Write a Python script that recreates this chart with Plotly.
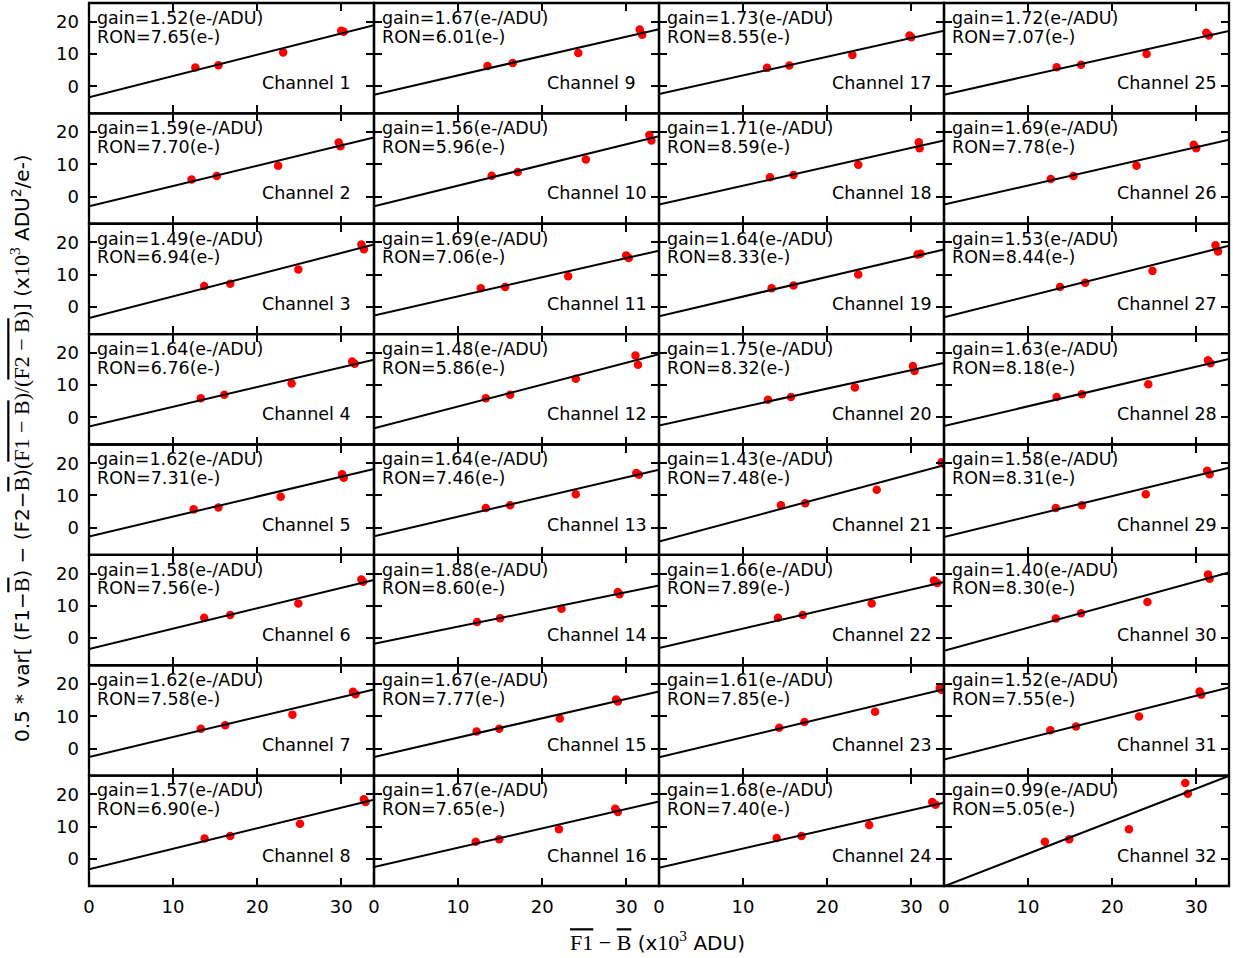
import plotly.graph_objects as go
from plotly.subplots import make_subplots

# Photon-transfer fits for the 32 readout channels
channels = list(range(1, 33))
gains = [1.52, 1.59, 1.49, 1.64, 1.62, 1.58, 1.62, 1.57,
         1.67, 1.56, 1.69, 1.48, 1.64, 1.88, 1.67, 1.67,
         1.73, 1.71, 1.64, 1.75, 1.43, 1.66, 1.61, 1.68,
         1.72, 1.69, 1.53, 1.63, 1.58, 1.40, 1.52, 0.99]
rons = [7.65, 7.70, 6.94, 6.76, 7.31, 7.56, 7.58, 6.90,
        6.01, 5.96, 7.06, 5.86, 7.46, 8.60, 7.77, 7.65,
        8.55, 8.59, 8.33, 8.32, 7.48, 7.89, 7.85, 7.40,
        7.07, 7.78, 8.44, 8.18, 8.31, 8.30, 7.55, 5.05]
# intercept of the linear fit (slope is 1/gain)
fit_intercepts = [-3.4, -3.0, -3.4, -2.8, -2.7, -3.4, -2.6, -3.25,
                  -2.6, -3.0, -2.6, -3.35, -2.65, -1.75, -2.6, -2.5,
                  -2.4, -2.45, -2.85, -2.5, -4.3, -3.05, -2.7, -2.75,
                  -2.6, -2.45, -3.2, -2.7, -2.85, -3.9, -3.4, -8.5]

# mean signal F1 - B (x10^3 ADU), one list per channel
signal = [
    [12.65, 15.4, 23.1, 30.0, 30.3],
    [12.2, 15.2, 22.5, 29.7, 29.9],
    [13.7, 16.8, 24.9, 32.4, 32.7],
    [13.3, 16.1, 24.1, 31.3, 31.6],
    [12.45, 15.4, 22.8, 30.1, 30.3],
    [13.7, 16.8, 24.9, 32.4, 32.6],
    [13.3, 16.2, 24.2, 31.4, 31.7],
    [13.75, 16.8, 25.1, 32.7, 32.9],
    [13.5, 16.5, 24.3, 31.6, 31.9],
    [14.0, 17.1, 25.2, 32.75, 33.0],
    [12.7, 15.6, 23.1, 30.0, 30.3],
    [13.3, 16.2, 24.0, 31.1, 31.4],
    [13.3, 16.2, 24.0, 31.2, 31.5],
    [12.25, 15.0, 22.3, 29.0, 29.2],
    [12.2, 14.9, 22.1, 28.8, 29.0],
    [12.1, 14.9, 22.0, 28.7, 29.0],
    [12.85, 15.5, 23.0, 29.8, 30.0],
    [13.2, 16.0, 23.7, 30.9, 31.0],
    [13.4, 16.0, 23.7, 30.75, 31.1],
    [12.96, 15.7, 23.3, 30.2, 30.4],
    [14.5, 17.4, 25.9, 33.6, 34.0],
    [14.15, 17.1, 25.3, 32.7, 33.1],
    [14.3, 17.3, 25.7, 33.4, 33.6],
    [14.0, 16.95, 25.0, 32.5, 32.9],
    [13.4, 16.3, 24.1, 31.2, 31.5],
    [12.7, 15.4, 22.9, 29.7, 30.0],
    [13.8, 16.8, 24.8, 32.3, 32.6],
    [13.4, 16.4, 24.3, 31.4, 31.7],
    [13.3, 16.4, 24.0, 31.3, 31.6],
    [13.3, 16.3, 24.2, 31.4, 31.6],
    [12.65, 15.7, 23.2, 30.4, 30.6],
    [12.0, 14.9, 22.0, 28.7, 29.0],
]
# half variance of the flat difference (x10^3 ADU^2/e-)
half_var = [
    [5.8, 6.5, 10.5, 17.2, 16.9],
    [5.3, 6.4, 9.6, 16.75, 15.6],
    [6.5, 7.2, 11.6, 19.4, 17.9],
    [5.95, 7.05, 10.5, 17.3, 16.6],
    [5.7, 6.3, 9.6, 16.6, 15.5],
    [6.35, 7.2, 10.7, 18.2, 17.5],
    [6.1, 7.2, 10.5, 17.6, 16.8],
    [6.35, 7.1, 10.9, 18.5, 17.6],
    [6.3, 7.2, 10.3, 17.6, 16.0],
    [6.5, 7.6, 11.5, 19.1, 17.4],
    [5.8, 6.2, 9.5, 16.0, 15.2],
    [5.95, 7.05, 12.0, 19.2, 16.3],
    [6.1, 7.0, 10.4, 17.0, 16.4],
    [5.0, 6.2, 9.1, 14.3, 13.6],
    [5.3, 6.1, 9.3, 15.2, 14.6],
    [5.3, 6.1, 9.2, 15.5, 14.5],
    [5.7, 6.4, 9.7, 15.7, 15.2],
    [6.0, 6.7, 9.9, 16.85, 15.0],
    [5.8, 6.7, 10.1, 16.3, 16.5],
    [5.5, 6.3, 9.3, 15.9, 14.4],
    [7.0, 7.6, 11.8, 20.3, 19.6],
    [6.35, 7.2, 10.7, 17.9, 17.1],
    [6.4, 8.2, 11.4, 18.7, 18.2],
    [6.45, 7.1, 10.5, 17.6, 16.8],
    [5.9, 6.7, 10.0, 16.6, 15.7],
    [5.5, 6.4, 9.6, 16.1, 15.0],
    [6.2, 7.5, 11.2, 19.1, 17.2],
    [6.3, 7.2, 10.3, 17.7, 16.8],
    [6.1, 7.0, 10.4, 17.7, 16.6],
    [6.1, 7.7, 11.2, 19.7, 18.4],
    [5.65, 6.85, 9.9, 17.7, 16.7],
    [5.3, 6.1, 9.2, 23.5, 20.2],
]

x_ticks = [0, 10, 20, 30]
y_ticks = [0, 10, 20]
x_range = [0, 33.9]
y_range = [-8.4, 25.8]

N_ROWS, N_COLS = 8, 4
FONT = "DejaVu Sans"
SERIF = "Liberation Serif"

fig = make_subplots(rows=N_ROWS, cols=N_COLS,
                    horizontal_spacing=0, vertical_spacing=0)

annotations = []
shapes = []
for c in range(N_COLS):
    for r in range(N_ROWS):
        ch = c * N_ROWS + r
        idx = r * N_COLS + c + 1
        sfx = "" if idx == 1 else str(idx)
        xs, ys = signal[ch], half_var[ch]
        fig.add_trace(go.Scatter(
            x=xs, y=ys, mode="markers",
            marker=dict(color="#ff0000", size=8.5, line=dict(width=0)),
            showlegend=False, hoverinfo="skip"), row=r + 1, col=c + 1)
        slope = 1.0 / gains[ch]
        fx = [x_range[0], x_range[1]]
        fy = [fit_intercepts[ch] + slope * v for v in fx]
        fig.add_trace(go.Scatter(
            x=fx, y=fy, mode="lines",
            line=dict(color="black", width=2),
            showlegend=False, hoverinfo="skip"), row=r + 1, col=c + 1)

        txt_font = dict(family=FONT, size=17.5, color="black")
        annotations.append(dict(
            x=0.7, y=21.2, xref="x" + sfx, yref="y" + sfx,
            text=f"gain={gains[ch]:.2f}(e-/ADU)", showarrow=False,
            xanchor="left", yanchor="middle", font=txt_font))
        annotations.append(dict(
            x=0.7, y=15.4, xref="x" + sfx, yref="y" + sfx,
            text=f"RON={rons[ch]:.2f}(e-)", showarrow=False,
            xanchor="left", yanchor="middle", font=txt_font))
        annotations.append(dict(
            x=20.3, y=1.0, xref="x" + sfx, yref="y" + sfx,
            text=f"Channel {channels[ch]}", showarrow=False,
            xanchor="left", yanchor="middle", font=txt_font))
        shapes.append(dict(
            type="rect", xref=f"x{sfx} domain", yref=f"y{sfx} domain",
            x0=0, x1=1, y0=0, y1=1, layer="above",
            line=dict(color="black", width=2.3),
            fillcolor="rgba(0,0,0,0)"))

        fig.update_xaxes(
            range=x_range, tickvals=x_ticks, ticktext=[str(t) for t in x_ticks],
            ticks="inside", ticklen=8, tickwidth=1.5, tickcolor="black",
            mirror="allticks", showline=False, showgrid=False, zeroline=False,
            showticklabels=(r == N_ROWS - 1), ticklabelstandoff=8,
            tickfont=dict(family=FONT, size=18, color="black"),
            row=r + 1, col=c + 1)
        fig.update_yaxes(
            range=y_range, tickvals=y_ticks, ticktext=[str(t) for t in y_ticks],
            ticks="inside", ticklen=8, tickwidth=1.5, tickcolor="black",
            mirror="allticks", showline=False, showgrid=False, zeroline=False,
            showticklabels=(c == 0), ticklabelstandoff=9,
            tickfont=dict(family=FONT, size=18, color="black"),
            row=r + 1, col=c + 1)


def serif(s, size=22):
    return f"<span style='font-family:{SERIF};font-size:{size}px'>{s}</span>"


def bar(s):
    return f"<span style='text-decoration:overline'>{s}</span>"


y_title = ("0.5 * var[ (F1\u2212" + serif(bar("B")) + ") \u2212 (F2\u2212" + serif(bar("B")) + ")"
           + serif("(" + bar("F1 \u2212 B") + ")/(" + bar("F2 \u2212 B") + ")")
           + "] (x" + serif("10<sup>3</sup>") + " ADU<sup>2</sup>/e-)")
x_title = serif(bar("F1") + " \u2212 " + bar("B")) + " (x" + serif("10<sup>3</sup>") + " ADU)"

annotations.append(dict(
    x=-0.0605, y=0.496, xref="paper", yref="paper", text=y_title,
    textangle=-90, showarrow=False, xanchor="center", yanchor="middle",
    font=dict(family=FONT, size=20, color="black")))
annotations.append(dict(
    x=0.499, y=-0.0623, xref="paper", yref="paper", text=x_title,
    showarrow=False, xanchor="center", yanchor="middle",
    font=dict(family=FONT, size=20, color="black")))

fig.update_layout(
    width=1233, height=958,
    margin=dict(l=89, r=4, t=3, b=72),
    paper_bgcolor="white", plot_bgcolor="white",
    annotations=annotations, shapes=shapes,
    font=dict(family=FONT, color="black"),
)

fig.write_html("out.html")
